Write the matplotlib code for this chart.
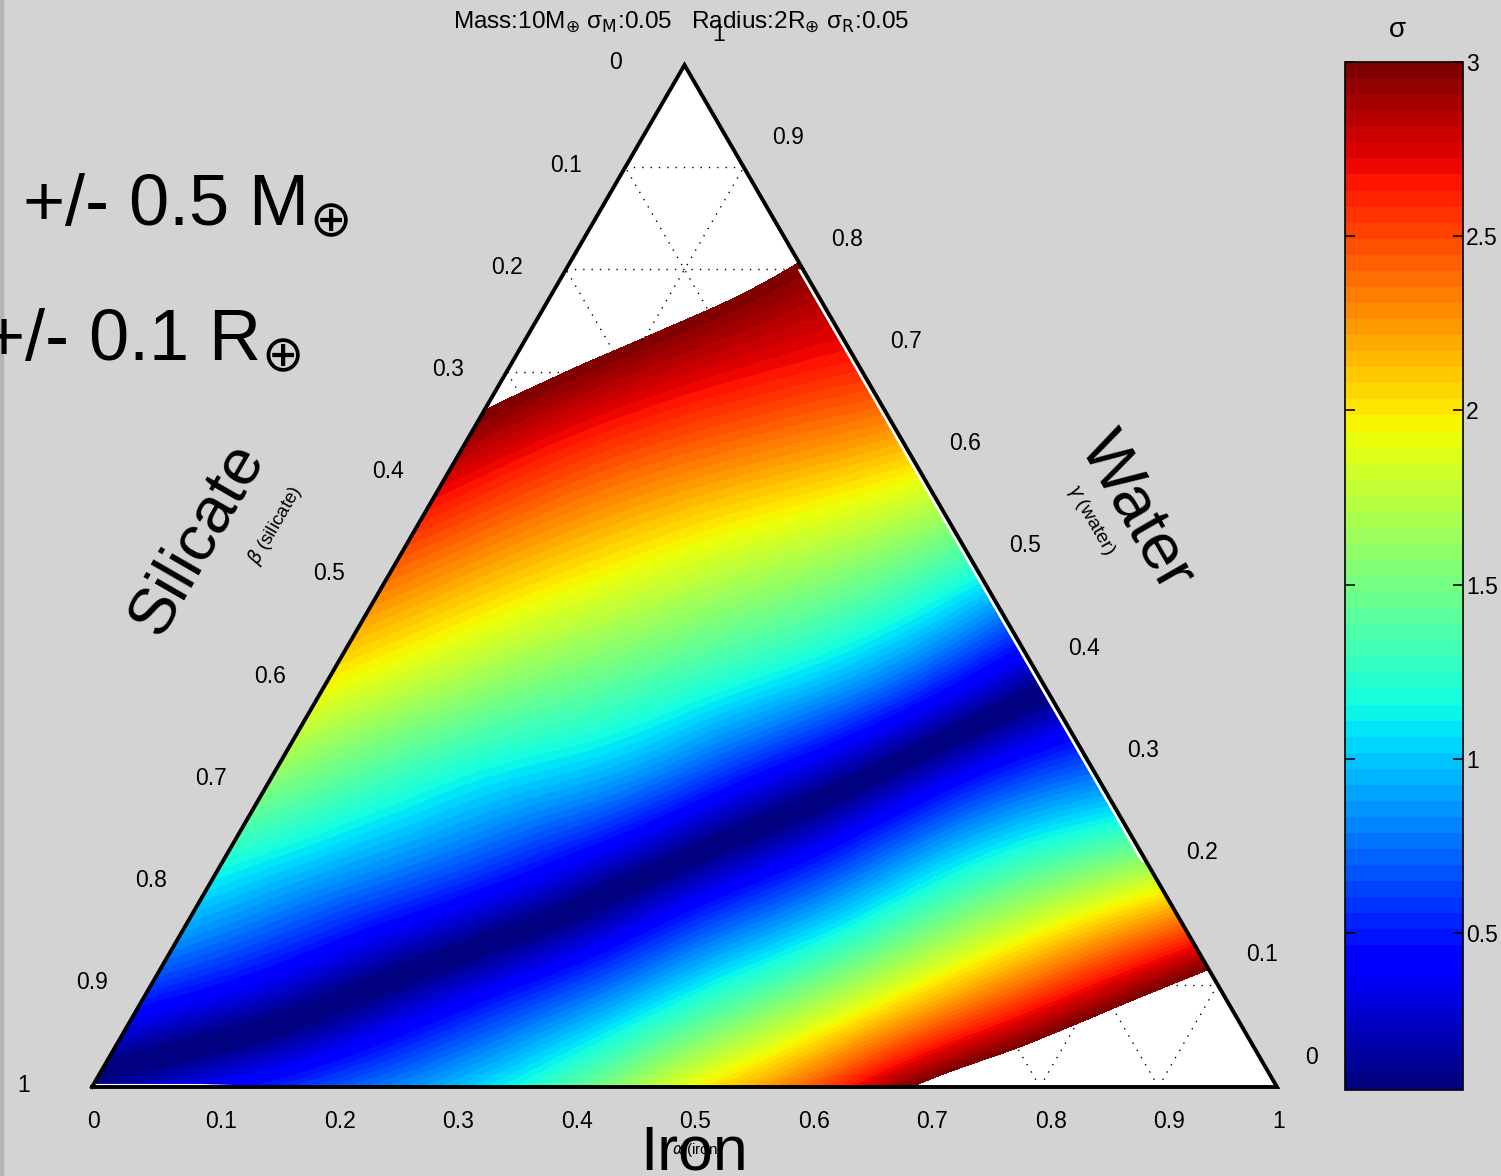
import numpy as np
import matplotlib
matplotlib.use('Agg')
import matplotlib.pyplot as plt
import matplotlib.tri as mtri
from matplotlib.colors import Normalize
from matplotlib.cm import ScalarMappable
from matplotlib.patches import Rectangle
from matplotlib import transforms

plt.rcParams['font.family'] = ['Liberation Sans', 'DejaVu Sans']

# deviation in sigma on a 0.1 composition grid, one list per iron fraction,
# entries run over water fraction 0, 0.1, 0.2, ...
# negative values lie on the iron-rich side of the best-fit band
sigma_iron_00 = [-0.10, 0.60, 1.10, 1.56, 1.98, 2.38, 2.77, 3.14, 3.51, 3.86, 4.21]
sigma_iron_01 = [-0.38, 0.33, 0.85, 1.29, 1.72, 2.12, 2.50, 2.88, 3.22, 3.55]
sigma_iron_02 = [-0.65, -0.03, 0.59, 1.06, 1.50, 1.90, 2.30, 2.70, 2.97]
sigma_iron_03 = [-0.95, -0.40, 0.25, 0.85, 1.30, 1.70, 2.14, 2.58]
sigma_iron_04 = [-1.35, -0.80, -0.20, 0.45, 1.05, 1.50, 1.95]
sigma_iron_05 = [-1.90, -1.25, -0.62, 0.00, 0.65, 1.15]
sigma_iron_06 = [-2.40, -1.70, -1.10, -0.50, 0.12]
sigma_iron_07 = [-3.05, -2.20, -1.50, -0.80]
sigma_iron_08 = [-3.50, -2.70, -1.85]
sigma_iron_09 = [-3.95, -3.20]
sigma_iron_10 = [-4.40]

axis_ticks = [0, 0.1, 0.2, 0.3, 0.4, 0.5, 0.6, 0.7, 0.8, 0.9, 1]
axis_tick_labels = ['0', '0.1', '0.2', '0.3', '0.4', '0.5', '0.6', '0.7', '0.8', '0.9', '1']
cbar_ticks = [0.5, 1, 1.5, 2, 2.5, 3]
cbar_tick_labels = ['0.5', '1', '1.5', '2', '2.5', '3']

W, H = 1501, 1176
fig = plt.figure(figsize=(W / 100, H / 100), dpi=100)
fig.patch.set_facecolor('#d3d3d3')
# thin darker strip on the left border of the figure window
fig.patches.append(Rectangle((0, 0), 3 / W, 1, transform=fig.transFigure,
                             color='#b4b4b4', zorder=0))

ax = fig.add_axes([0, 0, 1, 1])
sx = 1185.0
sy = 1022.0 / (np.sqrt(3) / 2)
ax.set_xlim(-92 / sx, (W - 92) / sx)
ax.set_ylim(-(H - 1087) / sy, 1087 / sy)
ax.axis('off')


def to_xy(a, g):
    a = np.asarray(a, dtype=float)
    g = np.asarray(g, dtype=float)
    return a + g / 2, g * np.sqrt(3) / 2


# white plot area inside the triangle
tx, ty = to_xy([0, 1, 0], [0, 0, 1])
ax.fill(tx, ty, color='white', zorder=0)

# dotted composition grid
for k in range(1, 10):
    v = k / 10
    for a0, g0, a1, g1 in [(0, v, 1 - v, v), (v, 0, v, 1 - v), (1 - v, 0, 0, 1 - v)]:
        lx, ly = to_xy([a0, a1], [g0, g1])
        ax.plot(lx, ly, color='black', lw=1.0, ls=(0, (1, 5)), zorder=1)

# sigma field
cols = [sigma_iron_00, sigma_iron_01, sigma_iron_02, sigma_iron_03, sigma_iron_04,
        sigma_iron_05, sigma_iron_06, sigma_iron_07, sigma_iron_08, sigma_iron_09,
        sigma_iron_10]
A, G, S = [], [], []
for i, col in enumerate(cols):
    for j, v in enumerate(col):
        A.append(i / 10)
        G.append(j / 10)
        S.append(v)
px, py = to_xy(A, G)
tri = mtri.Triangulation(px, py)
tri_f, s_f = mtri.UniformTriRefiner(tri).refine_field(np.array(S), subdiv=5)

cmap = plt.get_cmap('jet', 64)
norm = Normalize(0.05, 3)
ax.tricontourf(tri_f, np.abs(s_f), levels=np.linspace(0.05, 3, 65), cmap=cmap,
               norm=norm, extend='min', zorder=2)

# unsampled slivers along the water edge and the base near the silicate corner
d = 0.0045
wx, wy = to_xy([1 - 0.22, 1 - 0.80, 1 - 0.80 - d, 1 - 0.22 - d], [0.22, 0.80, 0.80, 0.22])
ax.fill(wx, wy, color='white', lw=0, zorder=3)
bx, by = to_xy([0, 0.17, 0.09, 0], [0, 0, 0.003, 0.003])
ax.fill(bx, by, color='white', lw=0, zorder=3)

# triangle outline
ax.plot(np.append(tx, tx[0]), np.append(ty, ty[0]), color='black', lw=2.8, zorder=4,
        solid_joinstyle='miter')


# tick labels on the three edges
def off(dx, dy):
    return transforms.offset_copy(ax.transData, fig=fig, x=dx, y=dy, units='dots')


for t, lab in zip(axis_ticks, axis_tick_labels):
    bx, by = to_xy(t, 0)
    ax.text(bx, by, lab, transform=off(-5, -34), ha='left', va='center', fontsize=16.5)
    lx, ly = to_xy(0, 1 - t)
    ax.text(lx, ly, lab, transform=off(-75, 2), ha='left', va='center', fontsize=16.5)
    rx, ry = to_xy(1 - t, t)
    ax.text(rx, ry, lab, transform=off(28, 30), ha='left', va='center', fontsize=16.5)

fig.text(681 / W, 1 - 22 / H,
         r'Mass:10M$_{\oplus}$ σ$_{\mathrm{M}}$:0.05   Radius:2R$_{\oplus}$ σ$_{\mathrm{R}}$:0.05',
         ha='center', va='center', fontsize=17.5)

# axis names
fig.text(697 / W, 1 - 1150 / H, r'$\alpha$ (iron)', ha='center', va='center', fontsize=11)
fig.text(694 / W, 1 - 1153 / H, 'Iron', ha='center', va='center', fontsize=45)
fig.text(197 / W, 1 - 538 / H, 'Silicate', ha='center', va='center', fontsize=47,
         rotation=60, rotation_mode='anchor')
fig.text(275 / W, 1 - 525 / H, r'$\beta$ (silicate)', ha='center', va='center', fontsize=13.5,
         rotation=60, rotation_mode='anchor')
fig.text(1137 / W, 1 - 512 / H, 'Water', ha='center', va='center', fontsize=47,
         rotation=-60, rotation_mode='anchor')
fig.text(1091 / W, 1 - 520 / H, r'$\gamma$ (water)', ha='center', va='center', fontsize=14,
         rotation=-60, rotation_mode='anchor')

# measurement errors
fig.text(22 / W, 1 - 225 / H, r'+/- 0.5 M$_{\oplus}$', ha='left', va='baseline', fontsize=52)
fig.text(-18 / W, 1 - 360 / H, r'+/- 0.1 R$_{\oplus}$', ha='left', va='baseline', fontsize=52)

# colorbar
cax = fig.add_axes([1345 / W, 1 - 1090 / H, 118 / W, 1028 / H])
cb = fig.colorbar(ScalarMappable(norm=norm, cmap=cmap), cax=cax, ticks=cbar_ticks)
cb.ax.set_yticklabels(cbar_tick_labels)
cb.outline.set_linewidth(1.2)
cax.tick_params(direction='in', left=True, right=True, length=7, width=1.2,
                labelsize=16.5, pad=2)
fig.text(1397 / W, 1 - 30 / H, 'σ', ha='center', va='center', fontsize=20)

fig.savefig('out.png', dpi=100, facecolor=fig.get_facecolor())
